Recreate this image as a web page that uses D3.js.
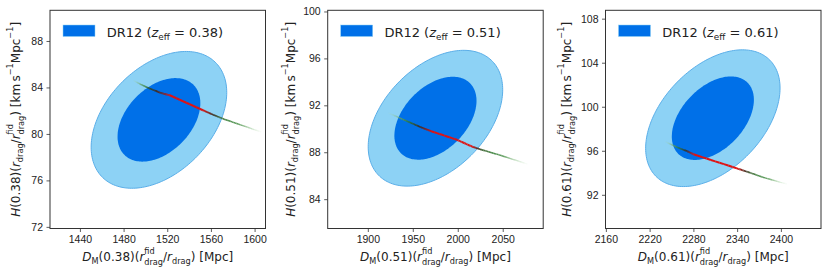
<!DOCTYPE html>
<html>
<head>
<meta charset="utf-8">
<script src="https://cdn.jsdelivr.net/npm/d3@7"></script>
<style>
  body { margin: 0; background: #fff; }
  svg { display: block; font-family: "DejaVu Sans", sans-serif; }
  .tick text { font-size: 10.5px; fill: #222; }
  .tick line, .domain { stroke: #333; }
</style>
</head>
<body>
<svg width="831" height="276"></svg>
<script>
// ---- data ----
const redshifts = ["0.38", "0.51", "0.61"];
const dmMean = [1512.4, 1975.2, 2306.7];
const hMean = [81.21, 90.90, 98.96];
const dmSigma = [25.0, 30.1, 37.1];
const hSigma = [2.37, 2.33, 2.50];
const corr = [0.40, 0.42, 0.44];
const contourLevels = [6.17, 2.30]; // delta chi2 for 95% / 68%

const xDomains = [[1412.6, 1610], [1855.4, 2095], [2159.5, 2455]];
const yDomains = [[71.86, 90.64], [81.5, 100.1], [88.94, 108.76]];
const xTicks = [[1440, 1480, 1520, 1560, 1600], [1900, 1950, 2000, 2050], [2160, 2220, 2280, 2340, 2400]];
const yTicks = [[72, 76, 80, 84, 88], [84, 88, 92, 96, 100], [92, 96, 100, 104, 108]];

// model track: DM, H and a weight (0 faint green .. 1 red)
const trackDM = [
  [1488.7, 1496, 1504, 1515, 1522.3, 1552.7, 1562, 1570.7, 1585, 1606],
  [1923, 1945, 1960, 1971.3, 1999.2, 2016, 2027, 2045, 2077.3],
  [2241.3, 2260, 2272, 2280.2, 2339.7, 2358, 2375, 2408.3]
];
const trackH = [
  [84.62, 84.25, 83.90, 83.50, 83.33, 82.04, 81.65, 81.32, 80.85, 80.17],
  [91.35, 90.60, 90.10, 89.77, 89.06, 88.48, 88.20, 87.80, 87.00],
  [96.83, 96.25, 95.95, 95.68, 94.40, 94.00, 93.60, 92.97]
];
const trackW = [
  [0, 0.3, 0.6, 0.8, 1, 1, 0.7, 0.5, 0.35, 0],
  [0, 0.45, 0.75, 1, 1, 1, 0.55, 0.4, 0],
  [0, 0.45, 0.75, 1, 1, 0.55, 0.4, 0]
];

// ---- layout ----
const plotLeft = [50, 327.7, 605.5];
const plotW = 215.5, plotTop = 10.3, plotBottom = 228.5;
const ylabOffset = [30.5, 33, 35];

const svg = d3.select("svg");
svg.append("rect").attr("width", 831).attr("height", 276).attr("fill", "#fff");

const trackColor = d3.scaleLinear()
  .domain([0, 0.45, 0.7, 1])
  .range(["#b9e4b4", "#2f7a2f", "#3a2a1a", "#e01212"]);
const trackAlpha = d3.scaleLinear().domain([0, 0.3, 1]).range([0.05, 0.85, 1]);

function richText(sel, parts, size) {
  let cur = 0, prevLen = 0;
  parts.forEach(p => {
    const off = p.pos === "sup" ? -0.52 * size : p.pos === "sub" ? 0.3 * size : 0;
    const ts = sel.append("tspan")
      .text(p.t)
      .attr("dy", off - cur)
      .style("font-size", (p.pos ? size * 0.68 : size) + "px")
      .style("font-style", p.it ? "italic" : "normal");
    if (p.stack) ts.attr("dx", -prevLen).attr("dy", off - cur + 0.06 * size);
    cur = p.stack ? off + 0.06 * size : off;
    prevLen = ts.node().getComputedTextLength();
  });
}

redshifts.forEach((z, i) => {
  const x = d3.scaleLinear().domain(xDomains[i]).range([plotLeft[i], plotLeft[i] + plotW]);
  const y = d3.scaleLinear().domain(yDomains[i]).range([plotBottom, plotTop]);

  const g = svg.append("g").attr("class", "panel");

  const clipId = "clip" + i;
  g.append("clipPath").attr("id", clipId)
    .append("rect")
    .attr("x", plotLeft[i]).attr("y", plotTop)
    .attr("width", plotW).attr("height", plotBottom - plotTop);

  const body = g.append("g").attr("clip-path", `url(#${clipId})`);

  // confidence ellipses
  const angles = d3.range(0, 2 * Math.PI, Math.PI / 90);
  const ellipse = k => angles.map(t => [
    dmMean[i] + Math.sqrt(k) * dmSigma[i] * Math.cos(t),
    hMean[i] + Math.sqrt(k) * hSigma[i] * (corr[i] * Math.cos(t) + Math.sqrt(1 - corr[i] * corr[i]) * Math.sin(t))
  ]);
  const line = d3.line().x(d => x(d[0])).y(d => y(d[1])).curve(d3.curveLinearClosed);

  body.append("path")
    .attr("d", line(ellipse(contourLevels[0])))
    .attr("fill", "#8dd2f5")
    .attr("stroke", "#5aaee8")
    .attr("stroke-width", 1);
  body.append("path")
    .attr("d", line(ellipse(contourLevels[1])))
    .attr("fill", "#0070e8");

  // model track, drawn as many short segments
  const segs = [];
  for (let j = 0; j < trackDM[i].length - 1; j++) {
    const n = 10;
    for (let s = 0; s < n; s++) {
      const a = s / n, b = (s + 1) / n;
      const lerp = (arr, f) => arr[j] + (arr[j + 1] - arr[j]) * f;
      segs.push({
        x0: lerp(trackDM[i], a), y0: lerp(trackH[i], a),
        x1: lerp(trackDM[i], b), y1: lerp(trackH[i], b),
        w: lerp(trackW[i], (a + b) / 2)
      });
    }
  }
  body.selectAll("line.track")
    .data(segs)
    .enter().append("line")
    .attr("class", "track")
    .attr("x1", d => x(d.x0)).attr("y1", d => y(d.y0))
    .attr("x2", d => x(d.x1)).attr("y2", d => y(d.y1))
    .attr("stroke", d => trackColor(d.w))
    .attr("stroke-opacity", d => trackAlpha(d.w))
    .attr("stroke-width", d => 1.2 + 0.8 * d.w);

  // axes
  const xAxis = g.append("g")
    .attr("transform", `translate(0,${plotBottom})`)
    .call(d3.axisBottom(x).tickValues(xTicks[i]).tickFormat(d3.format("d"))
      .tickSizeInner(3.5).tickSizeOuter(0).tickPadding(3.5));
  const yAxis = g.append("g")
    .attr("transform", `translate(${plotLeft[i]},0)`)
    .call(d3.axisLeft(y).tickValues(yTicks[i]).tickFormat(d3.format("d"))
      .tickSizeInner(3.5).tickSizeOuter(0).tickPadding(3.5));
  xAxis.select(".domain").remove();
  yAxis.select(".domain").remove();
  g.selectAll(".tick line").attr("stroke-width", 0.8);

  g.append("rect")
    .attr("x", plotLeft[i]).attr("y", plotTop)
    .attr("width", plotW).attr("height", plotBottom - plotTop)
    .attr("fill", "none")
    .attr("stroke", "#333")
    .attr("stroke-width", 1);

  // legend
  g.append("rect")
    .attr("x", plotLeft[i] + 13).attr("y", 25)
    .attr("width", 32).attr("height", 11.5)
    .attr("fill", "#0070e8")
    .attr("stroke", "#8dd2f5")
    .attr("stroke-width", 0.5);
  const leg = g.append("text")
    .attr("x", plotLeft[i] + 56.7).attr("y", 36.5)
    .attr("fill", "#222");
  richText(leg, [
    { t: "DR12 (" }, { t: "z", it: true }, { t: "eff", pos: "sub" }, { t: " = " + z + ")" }
  ], 13);

  // axis labels
  const xl = g.append("text")
    .attr("x", plotLeft[i] + plotW / 2).attr("y", 260.5)
    .attr("text-anchor", "middle")
    .attr("fill", "#222");
  richText(xl, [
    { t: "D", it: true }, { t: "M", pos: "sub" }, { t: "(" + z + ")(" },
    { t: "r", it: true }, { t: "fid", pos: "sup" }, { t: "drag", pos: "sub", stack: true },
    { t: "/" }, { t: "r", it: true }, { t: "drag", pos: "sub" }, { t: ") [Mpc]" }
  ], 12);

  const yl = g.append("text")
    .attr("transform", `translate(${plotLeft[i] - ylabOffset[i]},${(plotTop + plotBottom) / 2}) rotate(-90)`)
    .attr("text-anchor", "middle")
    .attr("fill", "#222");
  richText(yl, [
    { t: "H", it: true }, { t: "(" + z + ")(" },
    { t: "r", it: true }, { t: "drag", pos: "sub" }, { t: "/" },
    { t: "r", it: true }, { t: "fid", pos: "sup" }, { t: "drag", pos: "sub", stack: true },
    { t: ") [km\u2009s" }, { t: "\u22121", pos: "sup" }, { t: "Mpc" }, { t: "\u22121", pos: "sup" }, { t: "]" }
  ], 12);
});
</script>
</body>
</html>
